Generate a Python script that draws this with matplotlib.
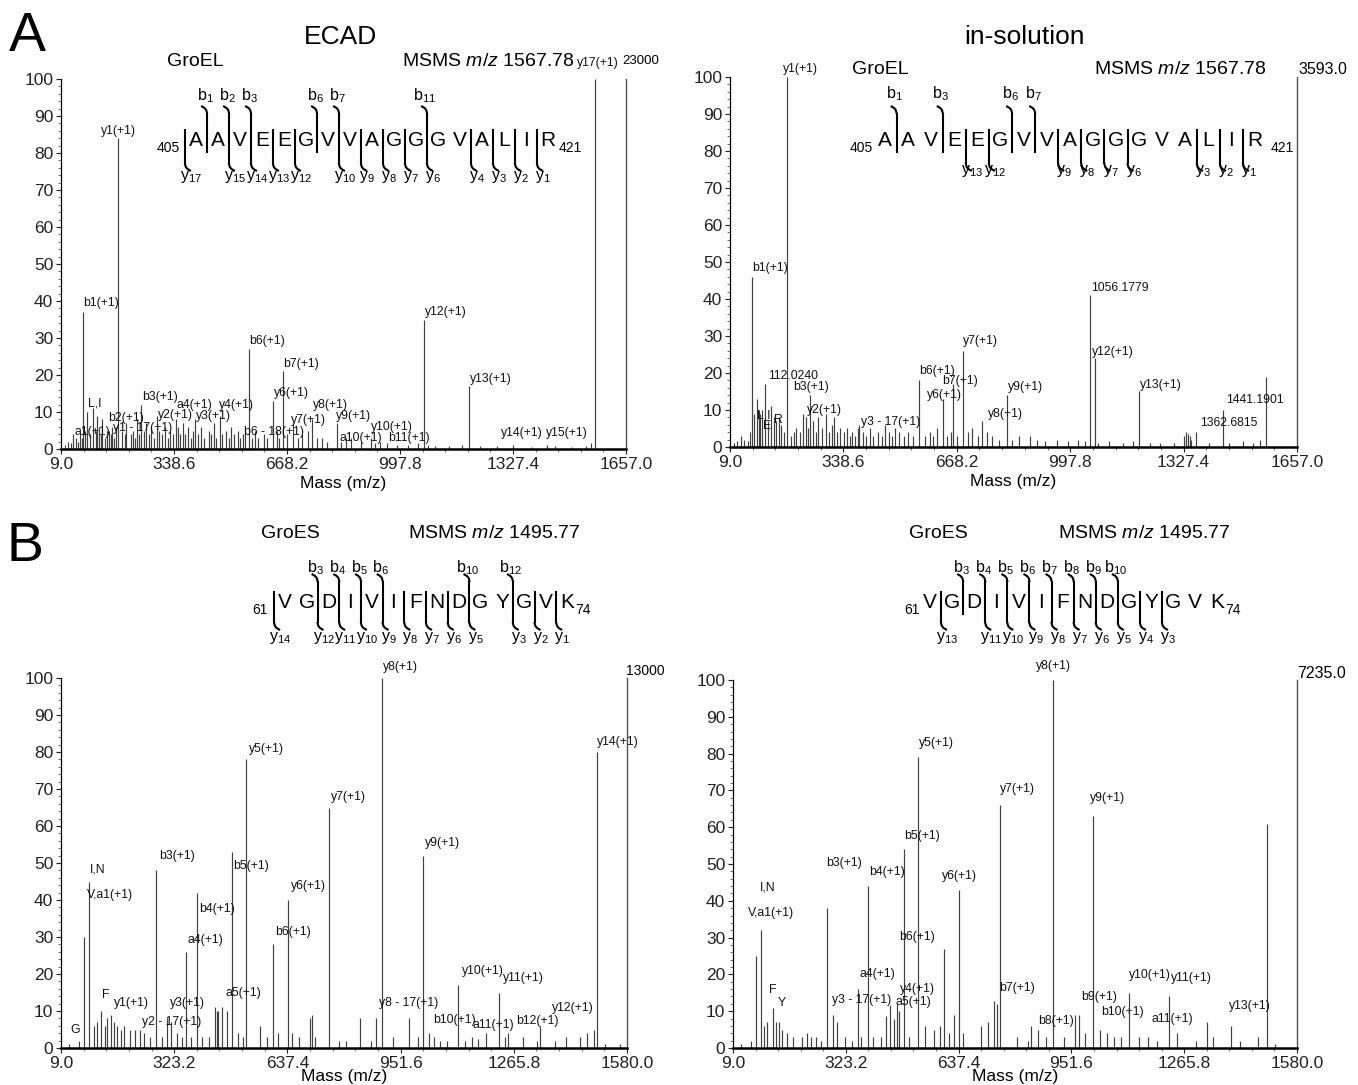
import matplotlib
matplotlib.use("Agg")
import matplotlib.pyplot as plt
from matplotlib.ticker import MultipleLocator

plt.rcParams["font.family"] = ["Liberation Sans", "DejaVu Sans"]
plt.rcParams["mathtext.fontset"] = "custom"
plt.rcParams["mathtext.rm"] = "Liberation Sans"
plt.rcParams["mathtext.it"] = "Liberation Sans:italic"
plt.rcParams["mathtext.bf"] = "Liberation Sans:bold"

# ============================ DATA ============================
TOP_XTICKS = [9.0, 338.6, 668.2, 997.8, 1327.4, 1657.0]
BOT_XTICKS = [9.0, 323.2, 637.4, 951.6, 1265.8, 1580.0]
Y_TICKS = [0, 10, 20, 30, 40, 50, 60, 70, 80, 90, 100]

# ---- A, ECAD (GroEL) ----
TL_lab_text = ["a1(+1)", "b1(+1)", "L,I", "b2(+1)", "y1 - 17(+1)", "y1(+1)", "b3(+1)", "y2(+1)",
               "a4(+1)", "y3(+1)", "y4(+1)", "b6 - 18(+1)", "b6(+1)", "y6(+1)", "b7(+1)", "y7(+1)",
               "y8(+1)", "y9(+1)", "a10(+1)", "y10(+1)", "b11(+1)", "y12(+1)", "y13(+1)",
               "y14(+1)", "y15(+1)", "y17(+1)"]
TL_lab_mass = [44.0, 72.0, 86.1, 143.1, 158.1, 175.1, 242.1, 288.2, 343.2, 401.3, 472.3, 539.2,
               557.3, 628.4, 656.3, 685.4, 742.5, 813.5, 855.5, 912.6, 940.5, 1068.7, 1197.7,
               1326.7, 1425.8, 1567.9]
TL_lab_int = [4, 37, 10, 5, 6, 84, 12, 9, 8, 8, 9, 4, 27, 13, 21, 7, 8, 7, 3, 3, 2, 35, 17,
              1.2, 1.0, 100]
TL_bg_mass = [20, 30, 38, 52, 58, 64, 70, 80, 95, 101, 110, 115, 120, 127, 130, 136, 148, 155,
              165, 170, 186, 195, 200, 212, 218, 225, 230, 236, 250, 258, 266, 272, 280, 296,
              305, 312, 320, 327, 335, 350, 357, 365, 372, 380, 388, 395, 410, 418, 425, 440,
              447, 455, 462, 480, 490, 498, 505, 515, 525, 530, 545, 566, 575, 585, 600, 610,
              640, 645, 668, 700, 712, 728, 755, 770, 785, 826, 840, 883, 925, 960, 990, 1020,
              1050, 1080, 1100, 1140, 1180, 1230, 1280, 1380, 1450, 1500, 1540, 1555]
TL_bg_int = [1, 2, 1.5, 3, 2, 4, 3, 5, 4, 11, 5, 9, 6, 4, 8, 3, 5, 4,
             3, 6, 5, 4, 7, 4, 5, 3, 8, 4, 5, 7, 4, 6, 3, 5,
             4, 6, 3, 5, 4, 6, 4, 7, 4, 6, 3, 5, 4, 6, 3, 5,
             4, 7, 3, 4, 5, 3, 6, 4, 5, 3, 4, 3, 5, 3, 4, 3,
             5, 3, 4, 3, 4, 5, 3, 3, 2, 2, 3, 2, 1.5, 1.5, 1, 1,
             1.5, 1, 0.8, 0.8, 1, 0.7, 0.8, 0.6, 0.7, 0.6, 0.8, 1.5]
TL_base_peak = "23000"

# ---- A, in-solution (GroEL) ----
TR_lab_text = ["b1(+1)", "L,I", "E", "R", "112.0240", "y1(+1)", "b3(+1)", "y2(+1)",
               "y3 - 17(+1)", "b6(+1)", "y6(+1)", "b7(+1)", "y7(+1)", "y8(+1)", "y9(+1)",
               "1056.1779", "y12(+1)", "y13(+1)", "1362.6815", "1441.1901"]
TR_lab_mass = [72.0, 86.1, 102.1, 129.1, 112.0, 175.1, 242.1, 288.2, 384.3, 557.3, 628.4, 656.3,
               685.4, 742.5, 813.5, 1056.2, 1068.7, 1197.7, 1362.7, 1441.2]
TR_lab_int = [46, 13, 10, 11, 17, 100, 14, 9, 6, 18, 13, 17, 26, 7, 14, 41, 24, 15, 4, 10]
TR_bg_mass = [20, 30, 40, 50, 60, 66, 78, 92, 97, 120, 136, 143, 150, 158, 165, 186, 195, 200,
              212, 220, 230, 236, 250, 258, 266, 275, 296, 305, 312, 320, 330, 340, 350, 357,
              365, 372, 380, 395, 405, 415, 425, 440, 450, 460, 470, 480, 490, 500, 515, 525,
              540, 575, 590, 600, 610, 640, 650, 670, 700, 712, 730, 755, 770, 790, 830, 850,
              880, 900, 925, 960, 990, 1020, 1040, 1080, 1110, 1150, 1180, 1230, 1260, 1300,
              1330, 1335, 1340, 1345, 1350, 1400, 1460, 1500, 1530, 1550, 1567]
TR_bg_int = [1, 1.5, 3, 2, 1.5, 4, 9, 10, 9, 7, 8, 7, 8, 6, 4, 3, 4, 5,
             4, 9, 8, 5, 7, 4, 8, 5, 4, 6, 8, 4, 5, 4, 5, 3,
             4, 3, 5, 4, 3, 5, 3, 4, 3, 6, 4, 3, 5, 4, 3, 4,
             3, 3, 4, 3, 5, 3, 4, 3, 4, 5, 3, 4, 3, 2, 2, 3,
             3, 2, 1.5, 2, 1.5, 2, 1.5, 1, 1.5, 1, 1.5, 1, 1, 1,
             3, 4, 3.5, 3, 2, 1, 1, 1.5, 1, 2, 19]
TR_base_peak = "3593.0"

# ---- B, ECAD (GroES) ----
BL_lab_text = ["G", "V,a1(+1)", "I,N", "F", "y1(+1)", "y2 - 17(+1)", "b3(+1)", "y3(+1)", "a4(+1)",
               "b4(+1)", "a5(+1)", "b5(+1)", "y5(+1)", "b6(+1)", "y6(+1)", "y7(+1)", "y8 - 17(+1)",
               "y8(+1)", "y9(+1)", "b10(+1)", "y10(+1)", "a11(+1)", "y11(+1)", "b12(+1)",
               "y12(+1)", "y14(+1)"]
BL_lab_mass = [30.0, 72.1, 86.1, 120.1, 147.1, 229.2, 272.1, 303.2, 357.2, 385.2, 456.3, 484.3,
               523.3, 597.4, 638.3, 752.4, 882.4, 899.4, 1012.5, 1030.5, 1111.6, 1165.6, 1224.7,
               1250.6, 1339.7, 1495.8]
BL_lab_int = [1.0, 30, 45, 10, 9, 5, 48, 8, 26, 42, 11, 53, 78, 28, 40, 65, 8, 100, 52, 4, 17,
              2.5, 15, 4, 6, 80]
BL_bg_mass = [60, 100, 110, 130, 136, 155, 165, 175, 185, 200, 215, 240, 255, 290, 315, 330, 345,
              370, 400, 420, 436, 441, 446, 470, 500, 515, 560, 580, 610, 650, 670, 700, 705, 715,
              780, 800, 840, 870, 930, 975, 1000, 1045, 1062, 1080, 1130, 1150, 1190, 1240, 1290,
              1330, 1380, 1410, 1450, 1470, 1488, 1520, 1560]
BL_bg_int = [2, 6, 7, 6, 8, 7, 6, 5, 6, 5, 5, 4, 3, 3, 7, 4, 3,
             3, 3, 3, 11, 10, 10, 10, 4, 3, 6, 3, 4, 4, 3, 8, 9, 3,
             2, 2, 8, 2, 3, 8, 3, 3, 2, 2, 2, 3, 4, 3, 3,
             2, 2, 3, 3, 4, 5, 1, 1]
BL_base_peak = "13000"

# ---- B, in-solution (GroES) ----
BR_lab_text = ["V,a1(+1)", "I,N", "F", "Y", "b3(+1)", "y3 - 17(+1)", "a4(+1)", "b4(+1)", "a5(+1)",
               "y4(+1)", "b5(+1)", "y5(+1)", "b6(+1)", "y6(+1)", "b7(+1)", "y7(+1)", "b8(+1)",
               "y8(+1)", "b9(+1)", "y9(+1)", "b10(+1)", "y10(+1)", "a11(+1)", "y11(+1)", "y13(+1)"]
BR_lab_mass = [72.1, 86.1, 120.1, 136.1, 272.1, 286.2, 357.2, 385.2, 456.3, 466.3, 484.3, 523.3,
               597.4, 638.3, 744.4, 752.4, 858.5, 899.4, 973.5, 1012.5, 1030.5, 1111.6, 1165.6,
               1224.7, 1396.7]
BR_lab_int = [25, 32, 11, 7, 38, 9, 16, 44, 8, 12, 54, 79, 27, 43, 12, 66, 5, 100, 9, 63, 5, 15,
              3, 14, 6]
BR_bg_mass = [30, 60, 95, 105, 128, 145, 160, 175, 200, 215, 225, 240, 255, 300, 320, 340, 365,
              400, 420, 436, 445, 470, 500, 545, 570, 585, 610, 625, 650, 700, 720, 735, 800, 830,
              840, 880, 930, 963, 990, 1050, 1070, 1090, 1140, 1190, 1245, 1300, 1330, 1345, 1420,
              1470, 1495.8, 1520]
BR_bg_int = [1, 2, 6, 7, 7, 5, 4, 3, 3, 4, 3, 3, 2, 7, 3, 2, 3,
             3, 3, 8.6, 11.7, 10, 3, 6, 5, 6, 4, 9, 4, 6, 7, 12.7, 3, 2,
             6, 3, 3, 9, 4, 4, 3, 3, 3, 2, 4, 2, 7, 3, 2,
             3, 61, 1]
BR_base_peak = "7235.0"

# ---- peptide fragment maps ----
TL_seq, TL_first, TL_last = "AAVEEGVVAGGGVALIR", 405, 421
TL_b_sites, TL_b_names = [1, 2, 3, 6, 7, 11], [1, 2, 3, 6, 7, 11]
TL_y_sites = [0, 2, 3, 4, 5, 7, 8, 9, 10, 11, 13, 14, 15, 16]

TR_seq, TR_first, TR_last = "AAVEEGVVAGGGVALIR", 405, 421
TR_b_sites, TR_b_names = [1, 3, 6, 7], [1, 3, 6, 7]
TR_y_sites = [4, 5, 8, 9, 10, 11, 14, 15, 16]

BL_seq, BL_first, BL_last = "VGDIVIFNDGYGVK", 61, 74
BL_b_sites, BL_b_names = [2, 3, 4, 5, 9, 11], [3, 4, 5, 6, 10, 12]
BL_y_sites = [0, 2, 3, 4, 5, 6, 7, 8, 9, 11, 12, 13]

BR_seq, BR_first, BR_last = "VGDIVIFNDGYGVK", 61, 74
BR_b_sites, BR_b_names = [2, 3, 4, 5, 6, 7, 8, 9], [3, 4, 5, 6, 7, 8, 9, 10]
BR_y_sites = [1, 3, 4, 5, 6, 7, 8, 9, 10, 11]

# ============================ LAYOUT ============================
W, H = 1358, 1085
fig = plt.figure(figsize=(W / 100, H / 100), dpi=100)

# axes boxes in pixels: left, right, y(0%), y(100%)
BOX_TL = (61, 626, 449, 79)
BOX_TR = (730, 1297, 447, 77)
BOX_BL = (61, 627, 1048, 678)
BOX_BR = (733, 1297, 1048, 680)

# label centres (pixels) for the annotated peaks
TL_lab_pos = [(92, 432), (101, 303), (95, 404), (126, 418), (143, 428), (118, 131), (160, 397),
              (175, 415), (194, 405), (213, 416), (236, 405), (274, 432), (267, 341), (291, 393),
              (301, 364), (308, 420), (330, 405), (354, 416), (361, 438), (392, 427), (409, 438),
              (446, 312), (491, 379), (522, 433), (567, 433), (598, 63)]
TR_lab_pos = [(770, 268), (764, 415), (767, 426), (778, 420), (793, 376), (800, 69), (811, 387),
              (824, 410), (891, 422), (937, 371), (944, 395), (960, 381), (980, 341), (1005, 414),
              (1026, 387), (1120, 288), (1113, 352), (1161, 385), (1229, 423), (1255, 400)]
BL_lab_pos = [(75, 1030), (110, 895), (98, 869), (106, 995), (131, 1003), (172, 1022), (177, 856),
              (187, 1003), (205, 940), (217, 909), (243, 993), (251, 866), (266, 749), (293, 932),
              (308, 886), (348, 797), (409, 1003), (400, 667), (443, 843), (454, 1020), (483, 971),
              (493, 1025), (523, 978), (537, 1021), (573, 1008), (618, 742)]
BR_lab_pos = [(771, 913), (768, 887), (773, 990), (782, 1003), (844, 863), (862, 1000), (877, 974),
              (887, 872), (913, 1002), (917, 989), (922, 836), (936, 743), (917, 937), (959, 876),
              (1017, 988), (1017, 789), (1056, 1021), (1053, 666), (1099, 997), (1108, 798),
              (1122, 1012), (1150, 975), (1172, 1019), (1191, 978), (1250, 1006)]

PEAK_COLOR = "#404040"


def make_axes(box, xticks):
    l, r, y0, y100 = box
    ax = fig.add_axes([l / W, 1 - y0 / H, (r - l) / W, (y0 - y100) / H])
    ax.set_xlim(xticks[0], xticks[-1])
    ax.set_ylim(0, 100)
    ax.patch.set_alpha(0)
    ax.spines["top"].set_visible(False)
    ax.spines["right"].set_color("#555555")
    ax.spines["right"].set_linewidth(1.0)
    ax.spines["left"].set_linewidth(0.9)
    ax.spines["bottom"].set_linewidth(1.8)
    ax.set_xticks(xticks)
    ax.set_xticklabels([f"{t:.1f}" for t in xticks])
    step = xticks[1] - xticks[0]
    ax.xaxis.set_minor_locator(MultipleLocator(step / 5, offset=xticks[0]))
    ax.set_yticks(Y_TICKS)
    ax.yaxis.set_minor_locator(MultipleLocator(2))
    ax.tick_params(axis="both", which="major", labelsize=12.5, length=3.5, width=0.8,
                   pad=2, colors="#222222")
    ax.tick_params(axis="both", which="minor", length=2, width=0.6, colors="#555555")
    return ax


def draw_spectrum(ax, bg_m, bg_i, lab_m, lab_i, xlabel_pad):
    ax.vlines(bg_m, 0, bg_i, color=PEAK_COLOR, lw=0.85)
    ax.vlines(lab_m, 0, lab_i, color=PEAK_COLOR, lw=0.85)
    ax.set_xlabel("Mass (m/z)", fontsize=12.5, labelpad=xlabel_pad)


ax_tl = make_axes(BOX_TL, TOP_XTICKS)
draw_spectrum(ax_tl, TL_bg_mass, TL_bg_int, TL_lab_mass, TL_lab_int, 3)
ax_tr = make_axes(BOX_TR, TOP_XTICKS)
draw_spectrum(ax_tr, TR_bg_mass, TR_bg_int, TR_lab_mass, TR_lab_int, 3)
ax_bl = make_axes(BOX_BL, BOT_XTICKS)
draw_spectrum(ax_bl, BL_bg_mass, BL_bg_int, BL_lab_mass, BL_lab_int, -1)
ax_br = make_axes(BOX_BR, BOT_XTICKS)
draw_spectrum(ax_br, BR_bg_mass, BR_bg_int, BR_lab_mass, BR_lab_int, -1)

# overlay in pixel coordinates for annotations
ov = fig.add_axes([0, 0, 1, 1], zorder=10)
ov.set_xlim(0, W)
ov.set_ylim(H, 0)
ov.axis("off")
ov.patch.set_alpha(0)

for texts, pos in [(TL_lab_text, TL_lab_pos), (TR_lab_text, TR_lab_pos),
                   (BL_lab_text, BL_lab_pos), (BR_lab_text, BR_lab_pos)]:
    for s, (x, y) in zip(texts, pos):
        ov.text(x, y, s, fontsize=8.8, ha="center", va="center", color="#111111")

# base peak intensities at the right spines
ov.text(BOX_TL[1] - 4, 61, TL_base_peak, fontsize=9.5, ha="left", va="center")
ov.text(BOX_TR[1] + 1, 69, TR_base_peak, fontsize=11.5, ha="left", va="center")
ov.text(BOX_BL[1] - 1, 671, BL_base_peak, fontsize=10, ha="left", va="center")
ov.text(BOX_BR[1], 673, BR_base_peak, fontsize=11.5, ha="left", va="center")

# panel letters and titles
ov.text(27, 37, "A", fontsize=40, ha="center", va="center")
ov.text(25, 547, "B", fontsize=40, ha="center", va="center")
ov.text(340, 37, "ECAD", fontsize=19, ha="center", va="center")
ov.text(1024, 37, "in-solution", fontsize=19, ha="center", va="center")

ov.text(195, 62, "GroEL", fontsize=14, ha="center", va="center")
ov.text(574, 62, r"MSMS $\mathit{m/z}$ 1567.78", fontsize=14, ha="right", va="center")
ov.text(880, 69, "GroEL", fontsize=14, ha="center", va="center")
ov.text(1266, 69, r"MSMS $\mathit{m/z}$ 1567.78", fontsize=14, ha="right", va="center")
ov.text(290, 533, "GroES", fontsize=14, ha="center", va="center")
ov.text(580, 533, r"MSMS $\mathit{m/z}$ 1495.77", fontsize=14, ha="right", va="center")
ov.text(938, 533, "GroES", fontsize=14, ha="center", va="center")
ov.text(1230, 533, r"MSMS $\mathit{m/z}$ 1495.77", fontsize=14, ha="right", va="center")


def draw_peptide(seq, first, last, b_sites, b_names, y_sites, x0, dx, cy,
                 top, bot, blab, ylab, first_dx, last_dx):
    n = len(seq)
    for i, aa in enumerate(seq):
        ov.text(x0 + i * dx, cy, aa, fontsize=15, ha="center", va="center")
    ov.text(x0 + first_dx, cy + 7, str(first), fontsize=10, ha="center", va="center")
    ov.text(x0 + (n - 1) * dx + last_dx, cy + 7, str(last), fontsize=10, ha="center", va="center")
    sites = sorted(set(b_sites) | set(y_sites))
    lw = 1.5
    for k in sites:
        x = x0 + (k - 0.5) * dx
        has_b = k in b_sites
        has_y = k in y_sites
        y_start = cy - top + 5 if has_b else cy - 12
        y_end = cy + bot - 5 if has_y else cy + 12
        ov.plot([x, x], [y_start, y_end], color="black", lw=lw, solid_capstyle="butt")
        if has_b:
            t = cy - top
            ov.plot([x, x - 0.8, x - 2.5, x - 5], [t + 5, t + 2, t, t - 1.5],
                    color="black", lw=lw)
            name = b_names[b_sites.index(k)]
            ov.text(x - 2, cy - blab, r"b$_{%d}$" % name, fontsize=11.5, ha="center",
                    va="center")
        if has_y:
            b = cy + bot
            ov.plot([x, x + 0.8, x + 2.5, x + 5], [b - 5, b - 2, b, b + 1.5],
                    color="black", lw=lw)
            name = n - k
            ov.text(x + 6, cy + ylab, r"y$_{%d}$" % name, fontsize=11.5, ha="center",
                    va="center")


draw_peptide(TL_seq, TL_first, TL_last, TL_b_sites, TL_b_names, TL_y_sites,
             196, 22.0, 141, 33, 28, 45, 36, -28, 22)
draw_peptide(TR_seq, TR_first, TR_last, TR_b_sites, TR_b_names, TR_y_sites,
             885, 23.1, 141, 33, 28, 47, 30, -24, 28)
draw_peptide(BL_seq, BL_first, BL_last, BL_b_sites, BL_b_names, BL_y_sites,
             285, 21.7, 603, 27, 25, 35, 35, -25, 16)
draw_peptide(BR_seq, BR_first, BR_last, BR_b_sites, BR_b_names, BR_y_sites,
             930, 22.1, 603, 27, 25, 35, 35, -18, 16)

fig.savefig("out.png", dpi=100)
